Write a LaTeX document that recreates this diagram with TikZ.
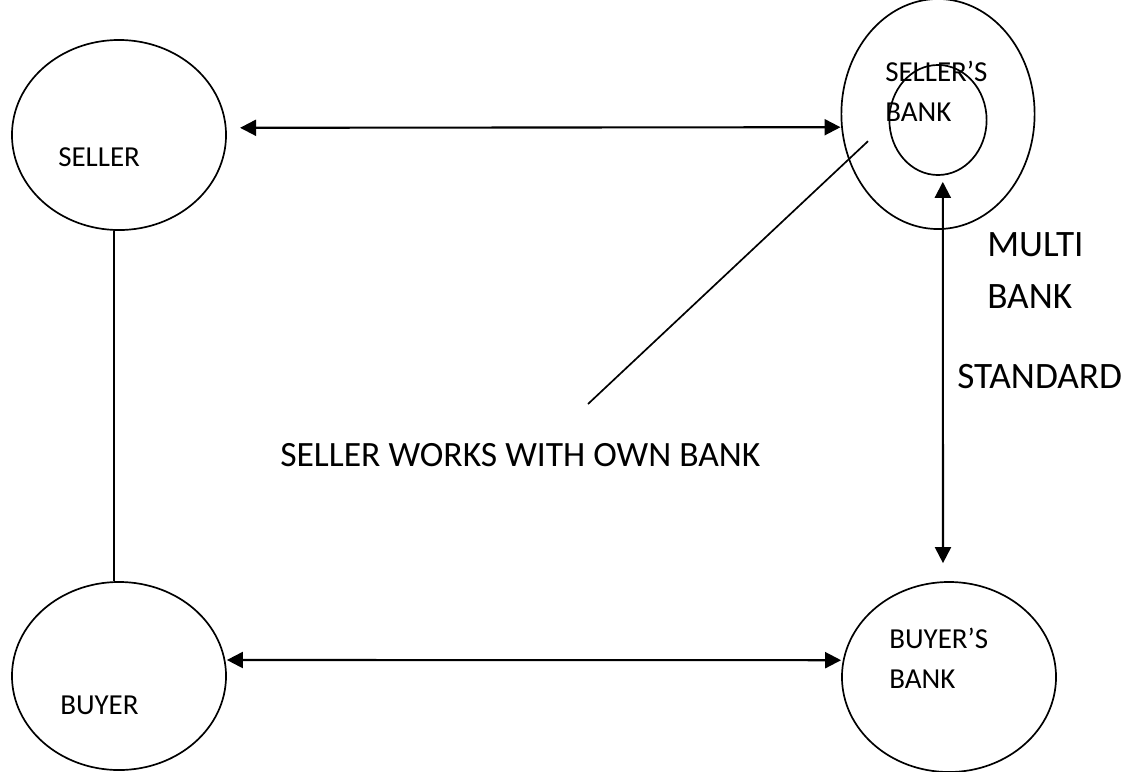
\documentclass[tikz,border=0pt]{standalone}
\usepackage{fontspec}
\setmainfont{Carlito}
\usepackage{tikz}
\usetikzlibrary{shapes,arrows.meta,positioning,calc}

\begin{document}
\begin{tikzpicture}[
    x=0.025cm, y=-0.025cm,
    party/.style={ellipse, draw=black, line width=1.2pt, inner sep=0pt},
    lbl/.style={inner sep=0pt, font=\fontsize{20.6}{28.6}\selectfont, align=left},
    biglbl/.style={inner sep=0pt, font=\fontsize{26.5}{37}\selectfont, align=left},
    arr/.style={{Triangle[length=0.4cm,width=0.4cm]}-{Triangle[length=0.4cm,width=0.4cm]}, line width=1.5pt},
    plain/.style={line width=1.2pt}
]
    \useasboundingbox (0,0) rectangle (1133,771);
    % the four parties
    \node[party, minimum width=5.35cm, minimum height=4.75cm] (seller) at (119,135) {};
    \node[party, minimum width=5.35cm, minimum height=4.7cm] (buyer) at (119,676) {};
    \node[party, minimum width=4.83cm, minimum height=5.75cm] (sbank) at (938,114) {};
    \node[party, minimum width=2.43cm, minimum height=2.75cm] (inner) at (938,120) {};
    \node[party, minimum width=5.35cm, minimum height=4.75cm] (bbank) at (949,677) {};
    \node[lbl, anchor=west] (sellerlbl) at (58,157) {SELLER};
    \node[lbl, anchor=west] (buyerlbl) at (60,705) {BUYER};
    \node[lbl, anchor=north west] (sbanklbl) at (885,61) {SELLER’S\\BANK};
    \node[lbl, anchor=north west] (bbanklbl) at (889,628) {BUYER’S\\BANK};
    % links
    \draw[arr] ([xshift=0.33cm,yshift=0.18cm]seller.east) -- ([yshift=-0.33cm]sbank.west);
    \draw[arr] ([yshift=0.4cm]buyer.east) -- ([yshift=0.42cm]bbank.west);
    \draw[arr] ([xshift=0.12cm,yshift=-0.15cm]inner.south) -- ([xshift=-0.15cm,yshift=0.45cm]bbank.north);
    \draw[plain] ([xshift=-0.12cm]seller.south) -- ([xshift=-0.12cm]buyer.north);
    \coordinate (tail) at (588,404);
    \draw[plain] ([xshift=-1.75cm,yshift=-0.68cm]sbank.center) -- (tail);
    % text on the links
    \node[biglbl, anchor=north west] (multi) at (987,232) {MULTI\\BANK};
    \node[biglbl, anchor=west] (std) at (957,377) {STANDARD};
    \node[lbl, font=\fontsize{25.3}{30}\selectfont, anchor=west] (own) at (280,455) {SELLER WORKS WITH OWN BANK};
\end{tikzpicture}
\end{document}
